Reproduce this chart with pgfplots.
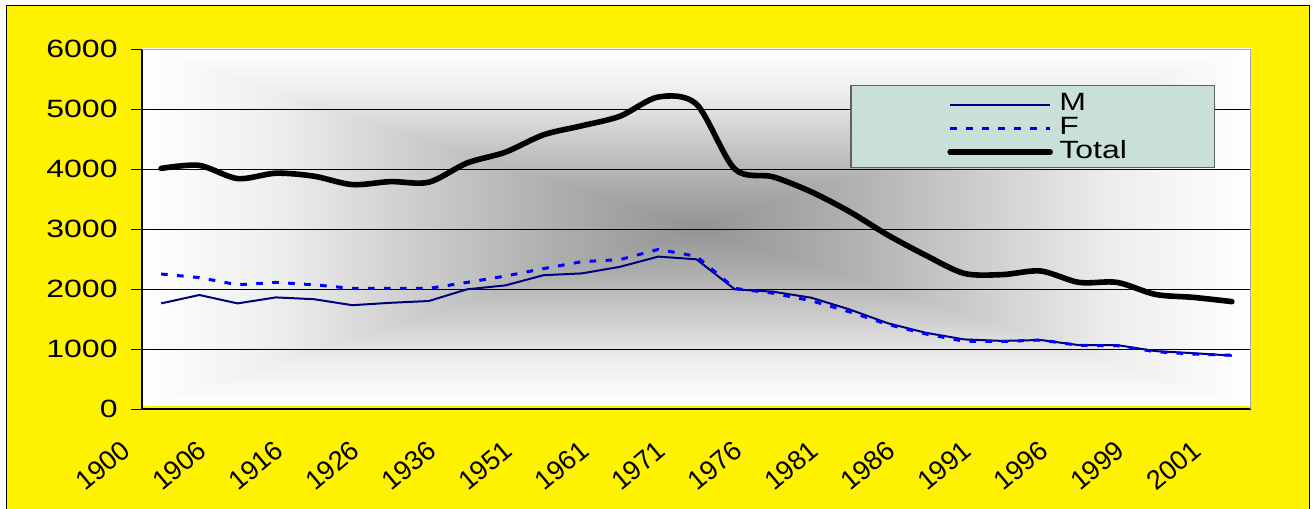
\documentclass[border=0pt]{standalone}
\usepackage{fontspec}
\setmainfont{Liberation Sans}[FakeStretch=1.28]
\newfontfamily\plainsans{Liberation Sans}
\newcommand\xl{\plainsans\fontsize{13.5}{15}\selectfont}
\usepackage{pgfplots}
\pgfplotsset{compat=1.18}
\definecolor{g58}{gray}{0.58}
\definecolor{g68}{gray}{0.68}
\definecolor{g80}{gray}{0.80}
\definecolor{g93}{gray}{0.93}
\definecolor{legbg}{HTML}{C9E0D9}
\definecolor{legdraw}{HTML}{606060}
\definecolor{mnavy}{HTML}{000080}
\definecolor{fblue}{HTML}{0000FF}
\pgfdeclarehorizontalshading{hsh}{100bp}{color(0bp)=(white); color(25bp)=(white); color(31.25bp)=(g93); color(37.5bp)=(g80); color(43.75bp)=(g68); color(50bp)=(g58); color(56.25bp)=(g68); color(62.5bp)=(g80); color(68.75bp)=(g93); color(75bp)=(white); color(100bp)=(white)}
\pgfdeclareverticalshading{vsh}{100bp}{color(0bp)=(white); color(25bp)=(white); color(31.25bp)=(g93); color(37.5bp)=(g80); color(43.75bp)=(g68); color(50bp)=(g58); color(56.25bp)=(g68); color(62.5bp)=(g80); color(68.75bp)=(g93); color(75bp)=(white); color(100bp)=(white)}

\pgfplotstableread{
i M F T
0 1760 2250 4010
1 1900 2190 4060
2 1760 2070 3840
3 1860 2110 3930
4 1830 2070 3880
5 1730 2010 3740
6 1770 2010 3790
7 1800 2010 3780
8 1995 2110 4100
9 2060 2215 4280
10 2230 2340 4570
11 2260 2455 4720
12 2370 2490 4880
13 2540 2660 5200
14 2495 2545 5080
15 1995 2010 4000
16 1955 1930 3870
17 1855 1805 3620
18 1660 1620 3290
19 1430 1410 2900
20 1270 1250 2560
21 1160 1130 2260
22 1135 1125 2240
23 1150 1150 2300
24 1065 1060 2110
25 1065 1055 2110
26 965 955 1910
27 930 915 1860
28 890 895 1790
}\datatable

\begin{document}
\begin{tikzpicture}
\useasboundingbox (-71pt,-49.5pt) rectangle (586.5pt,204.5pt);
\fill[white] (-71pt,-49.5pt) rectangle (586.5pt,204.5pt);
\filldraw[fill=yellow, draw=black, line width=0.5pt] (-67.5pt,-52pt) rectangle (583.5pt,201.5pt);
\shade[shading=hsh] (0pt,2pt) rectangle (554.5pt,180pt);
\shade[shading=vsh, blend mode=lighten] (0pt,2pt) rectangle (554.5pt,180pt);
\begin{axis}[
  at={(0pt,0pt)}, anchor=south west,
  scale only axis, width=554.5pt, height=180pt,
  xmin=-0.5, xmax=28.5, ymin=0, ymax=6000,
  axis lines*=left,
  axis line style={-, black, line width=0.6pt},
  tick align=outside,
  tick style={black, line width=0.5pt},
  xtick=\empty,
  minor xtick={-0.5,0.5,...,28.5},
  minor tick length=2.5pt,
  major tick length=5.5pt,
  ytick={0,1000,...,6000},
  ymajorgrids,
  major grid style={black, line width=0.5pt},
  /pgf/number format/assume math mode=true,
  /pgf/number format/set thousands separator={},
  yticklabel style={font=\fontsize{12.5}{14}\selectfont, anchor=east, inner sep=0pt, xshift=-6.5pt},
  extra x ticks={0,2,...,28},
  extra x tick labels={\xl 1900,\xl 1906,\xl 1916,\xl 1926,\xl 1936,\xl 1951,\xl 1961,\xl 1971,\xl 1976,\xl 1981,\xl 1986,\xl 1991,\xl 1996,\xl 1999,\xl 2001},
  extra x tick style={grid=none, major tick length=0pt,
    tick label style={xshift=-17.5pt, yshift=-18.5pt, rotate=40, anchor=east, inner sep=0pt, font=\xl}},
  legend style={draw=none, fill=none, at={(0.7262,0.8675)}, anchor=north west,
    inner sep=0pt, outer sep=0pt, row sep=0pt, column sep=3.2pt,
    nodes={inner sep=0pt, text height=7pt, text depth=4.9pt, anchor=base west},
    font=\fontsize{12.5}{14}\selectfont},
  legend cell align=left,
  legend image code/.code={\draw[#1] (0pt,3.1pt) -- (50pt,3.1pt);},
]
\addplot[mnavy, line width=1pt] table[x=i, y=M] {\datatable};
\addlegendentry{M}
\addplot[fblue, line width=1.5pt, dash pattern=on 3.3pt off 4.7pt] table[x=i, y=F] {\datatable};
\addlegendentry{F}
\addplot[black, line width=2.8pt, line cap=round, line join=round, smooth, tension=0.5] table[x=i, y=T] {\datatable};
\addlegendentry{Total}
\draw[gray!70, line width=1.2pt] (rel axis cs:0,1) -- (rel axis cs:1,1) -- (rel axis cs:1,0);
\filldraw[fill=legbg, draw=legdraw, line width=0.6pt] (rel axis cs:0.6393,0.6717) rectangle (rel axis cs:0.967,0.8983);
\end{axis}
\end{tikzpicture}
\end{document}
